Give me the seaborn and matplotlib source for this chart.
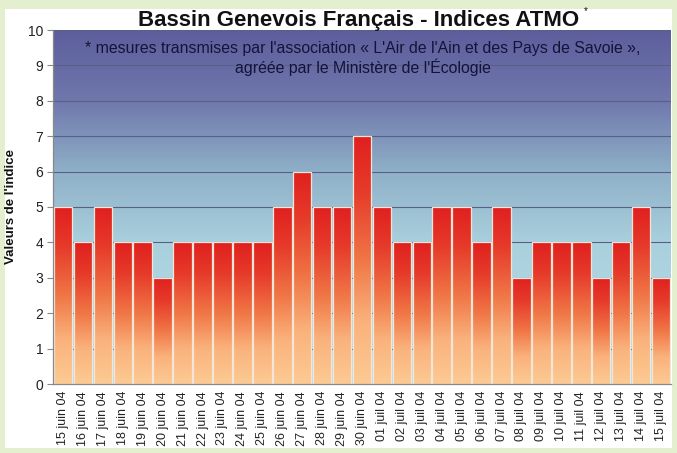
import numpy as np
import pandas as pd
import matplotlib
matplotlib.use("Agg")
import matplotlib.pyplot as plt
from matplotlib.colors import LinearSegmentedColormap
from matplotlib.patches import Rectangle
import seaborn as sns

dates = ["15 juin 04", "16 juin 04", "17 juin 04", "18 juin 04", "19 juin 04",
         "20 juin 04", "21 juin 04", "22 juin 04", "23 juin 04", "24 juin 04",
         "25 juin 04", "26 juin 04", "27 juin 04", "28 juin 04", "29 juin 04",
         "30 juin 04", "01 juil 04", "02 juil 04", "03 juil 04", "04 juil 04",
         "05 juil 04", "06 juil 04", "07 juil 04", "08 juil 04", "09 juil 04",
         "10 juil 04", "11 juil 04", "12 juil 04", "13 juil 04", "14 juil 04",
         "15 juil 04"]
values = [5, 4, 5, 4, 4, 3, 4, 4, 4, 4, 4, 5, 6, 5, 5, 7, 5, 4, 4, 5, 5, 4, 5, 3,
          4, 4, 4, 3, 4, 5, 3]
y_ticks = list(range(0, 11))

title = "Bassin Genevois Français - Indices ATMO"
subtitle = ("* mesures transmises par l'association « L'Air de l'Ain et des Pays de Savoie »,\n"
            "agréée par le Ministère de l'Écologie")
ylabel = "Valeurs de l'indice"

sns.set_style("white")
plt.rcParams["font.family"] = ["Liberation Sans", "DejaVu Sans"]

df = pd.DataFrame({"date": dates, "valeur": values})

fig = plt.figure(figsize=(6.77, 4.53), dpi=100, facecolor="#e3efce")
fig.patches.append(Rectangle((5 / 677, 5 / 453), 667 / 677, 439 / 453,
                             transform=fig.transFigure, facecolor="white",
                             edgecolor="none", zorder=-10))
ax = fig.add_axes([53 / 677, 69 / 453, 618 / 677, 354 / 453])
ax.set_zorder(1)
ax.patch.set_alpha(0)

sns.barplot(data=df, x="date", y="valeur", ax=ax, width=0.93,
            color="#e53528", edgecolor="#f3e6d8", linewidth=0.9, zorder=3)

ax.set_xlim(-0.5, len(dates) - 0.5)
ax.set_ylim(0, 10)

# background gradient
bg_cmap = LinearSegmentedColormap.from_list(
    "bg", [(0.0, "#b8e0e9"), (0.4, "#a9d0dd"), (0.6, "#8fb0c8"),
           (0.8, "#7078ac"), (1.0, "#5d5e9c")])
grad = np.linspace(0, 1, 256).reshape(-1, 1)
ax.imshow(grad, cmap=bg_cmap, origin="lower", aspect="auto",
          extent=[-0.5, len(dates) - 0.5, 0, 10], zorder=0)

# bar gradients
bar_cmap = LinearSegmentedColormap.from_list(
    "bar", [(0.0, "#fdca93"), (0.25, "#fab27c"), (0.5, "#f07646"),
            (0.78, "#e63a2a"), (1.0, "#e0201f")])
for p in list(ax.patches):
    x0, y0 = p.get_x(), p.get_y()
    w, h = p.get_width(), p.get_height()
    im = ax.imshow(grad, cmap=bar_cmap, origin="lower", aspect="auto",
                   extent=[x0, x0 + w, y0, y0 + h], zorder=2)
    im.set_clip_path(p)
    p.set_facecolor("none")

ax.set_xlim(-0.5, len(dates) - 0.5)
ax.set_ylim(0, 10)

for yv in y_ticks[1:]:
    ax.axhline(yv, color="#5a5f86", linewidth=0.8, zorder=1)

ax.set_yticks(y_ticks)
ax.set_yticklabels([str(v) for v in y_ticks], fontsize=10, color="#222222")
ax.set_xticks(range(len(dates)))
ax.set_xticklabels(dates, rotation=90, fontsize=9, color="#222222")
ax.set_xticks(np.arange(-0.5, len(dates), 1), minor=True)
ax.tick_params(axis="x", which="major", length=0, pad=5)
ax.tick_params(axis="x", which="minor", length=4, color="#888888", width=0.8)
ax.tick_params(axis="y", length=4, color="#888888", width=0.8, pad=3, left=True)
ax.set_xlabel("")
ax.set_ylabel(ylabel, fontsize=9.5, fontweight="bold", color="#111111", labelpad=8)

for s in ["top", "right"]:
    ax.spines[s].set_visible(False)
for s in ["left", "bottom"]:
    ax.spines[s].set_color("#888888")
    ax.spines[s].set_linewidth(0.9)
    ax.spines[s].set_zorder(5)

fig.text(0.529, 0.955, title, ha="center", va="center", fontsize=16,
         fontweight="bold", color="#111111", zorder=10)
fig.text(0.862, 0.975, "*", ha="left", va="center", fontsize=7, color="#111111",
         zorder=10)
fig.text(0.536, 0.871, subtitle, ha="center", va="center", fontsize=11.4,
         color="#14143a", linespacing=1.2, zorder=10)

fig.savefig("out.png", dpi=100, facecolor=fig.get_facecolor())
